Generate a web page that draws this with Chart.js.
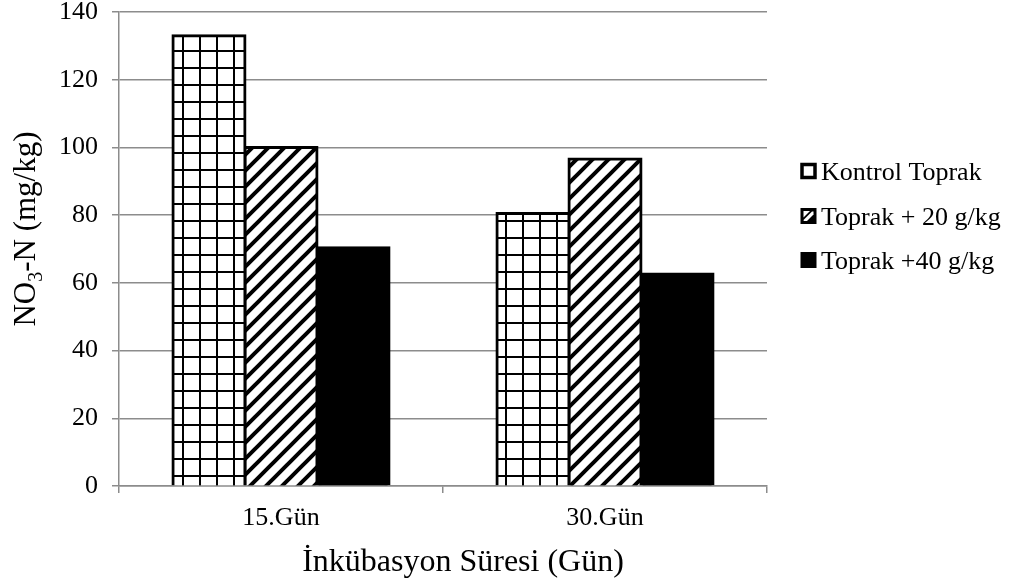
<!DOCTYPE html>
<html>
<head>
<meta charset="utf-8">
<script src="https://cdn.jsdelivr.net/npm/chart.js@4.4.1/dist/chart.umd.min.js"></script>
<style>
  html, body { margin: 0; padding: 0; background: #fff; }
  #wrap { position: relative; width: 1013px; height: 580px; }
</style>
</head>
<body>
<div id="wrap"><canvas id="chart" width="1013" height="580"></canvas></div>
<script>
// Incubation periods and NO3-N contents (mg/kg) for each soil treatment
const categories = ['15.Gün', '30.Gün'];
const seriesNames = ['Kontrol Toprak', 'Toprak + 20 g/kg', 'Toprak +40 g/kg'];
const kontrolValues = [133, 80.5];
const toprak20Values = [100, 96.6];
const toprak40Values = [70.4, 62.6];
const yTicks = [0, 20, 40, 60, 80, 100, 120, 140];
const xTitle = 'İnkübasyon Süresi (Gün)';

const SERIF = "'Liberation Serif', 'Times New Roman', serif";
const GRID = '#8c8c8c';

// Square-grid hatch fill
function gridPattern() {
  const c = document.createElement('canvas');
  c.width = 17; c.height = 17;
  const g = c.getContext('2d');
  g.fillStyle = '#fff'; g.fillRect(0, 0, 17, 17);
  g.fillStyle = '#000';
  g.fillRect(12, 0, 2, 17);
  g.fillRect(0, 16, 17, 1);
  g.fillRect(0, 0, 17, 1);
  return g.createPattern(c, 'repeat');
}

// Wide upward diagonal hatch fill
function diagPattern() {
  const s = 16;
  const c = document.createElement('canvas');
  c.width = s; c.height = s;
  const g = c.getContext('2d');
  g.fillStyle = '#fff'; g.fillRect(0, 0, s, s);
  g.strokeStyle = '#000'; g.lineWidth = 4; g.lineCap = 'square';
  g.beginPath();
  g.moveTo(-4, s + 4); g.lineTo(s + 4, -4);
  g.moveTo(-4, 4); g.lineTo(4, -4);
  g.moveTo(s - 4, s + 4); g.lineTo(s + 4, s - 4);
  g.stroke();
  return g.createPattern(c, 'repeat');
}

const ctx = document.getElementById('chart').getContext('2d');
const fills = [gridPattern(), diagPattern(), '#000'];

// Axis titles: rotated y title with subscript, and the x title below the ticks
const axisTitlePlugin = {
  id: 'axisTitles',
  afterDraw(chart) {
    const c = chart.ctx;
    const parts = [
      { t: 'NO', size: 31, dy: 0 },
      { t: '3', size: 20, dy: 7 },
      { t: '-N (mg/kg)', size: 31, dy: 0 }
    ];
    c.save();
    let total = 0;
    parts.forEach(p => { c.font = p.size + 'px ' + SERIF; p.w = c.measureText(p.t).width; total += p.w; });
    c.translate(35, 229);
    c.rotate(-Math.PI / 2);
    c.fillStyle = '#000';
    c.textBaseline = 'alphabetic';
    let x = -total / 2;
    parts.forEach(p => {
      c.font = p.size + 'px ' + SERIF;
      c.fillText(p.t, x, p.dy);
      x += p.w;
    });
    c.restore();

    c.save();
    c.font = '32px ' + SERIF;
    c.fillStyle = '#000';
    c.textAlign = 'center';
    c.textBaseline = 'middle';
    c.fillText(xTitle, 463, 563);
    c.restore();
  }
};

// Legend on the right with hatch swatches
const legendPlugin = {
  id: 'sideLegend',
  afterDraw(chart) {
    const c = chart.ctx;
    const x0 = 802, size = 13;
    const rows = [173, 218, 262];
    c.save();
    seriesNames.forEach((name, i) => {
      const cy = rows[i];
      const top = cy - size / 2 - 2;
      if (i === 0) {
        c.fillStyle = '#fff'; c.fillRect(x0, top, size, size);
        c.strokeStyle = '#000'; c.lineWidth = 3.5; c.strokeRect(x0, top, size, size);
      } else if (i === 1) {
        c.fillStyle = '#000'; c.fillRect(x0 - 1.5, top - 1.5, size + 3, size + 3);
        c.fillStyle = '#fff';
        c.beginPath();
        c.moveTo(x0 + 2, top + size - 3);
        c.lineTo(x0 + size - 3, top + 2);
        c.lineTo(x0 + size - 1.5, top + 2);
        c.lineTo(x0 + size - 1.5, top + 5);
        c.lineTo(x0 + 5, top + size - 1.5);
        c.lineTo(x0 + 1.5, top + size - 1.5);
        c.closePath();
        c.fill();
        c.beginPath();
        c.moveTo(x0 + 1.5, top + 1.5);
        c.lineTo(x0 + size - 5, top + 1.5);
        c.lineTo(x0 + 1.5, top + size - 5);
        c.closePath();
        c.fill();
      } else {
        c.fillStyle = '#000'; c.fillRect(x0 - 1.5, top - 1.5, size + 3, size + 3);
      }
      c.font = '26px ' + SERIF;
      c.fillStyle = '#000';
      c.textBaseline = 'middle';
      c.textAlign = 'left';
      c.fillText(name, x0 + size + 6, cy);
    });
    c.restore();
  }
};

const mkSet = (label, data, i) => ({
  label,
  data,
  backgroundColor: fills[i],
  borderColor: '#000',
  borderWidth: 3,
  borderSkipped: 'start',
  inflateAmount: 1.5
});

new Chart(ctx, {
  type: 'bar',
  data: {
    labels: categories,
    datasets: [
      mkSet(seriesNames[0], kontrolValues, 0),
      mkSet(seriesNames[1], toprak20Values, 1),
      mkSet(seriesNames[2], toprak40Values, 2)
    ]
  },
  options: {
    responsive: false,
    animation: false,
    devicePixelRatio: 1,
    layout: { padding: { top: 12, right: 246, bottom: 0, left: 0 } },
    plugins: {
      legend: { display: false },
      tooltip: { enabled: false }
    },
    datasets: { bar: { categoryPercentage: 0.667, barPercentage: 1.0 } },
    scales: {
      x: {
        offset: true,
        grid: { offset: true, drawOnChartArea: false, drawTicks: true, tickLength: 7, color: GRID, lineWidth: 1.5 },
        border: { display: true, color: GRID, width: 1.5 },
        ticks: { color: '#000', font: { family: SERIF, size: 26 }, padding: 10 },
        afterFit(scale) {
          scale.height = 94;
          scale.paddingLeft = 0; scale.paddingRight = 0;
        }
      },
      y: {
        min: 0,
        max: 140,
        afterBuildTicks(scale) { scale.ticks = yTicks.map(v => ({ value: v })); },
        grid: { color: GRID, lineWidth: 1.5, drawTicks: true, tickLength: 7 },
        border: { display: true, color: GRID, width: 1.5 },
        ticks: { color: '#000', font: { family: SERIF, size: 26 }, padding: 14 },
        afterFit(scale) {
          scale.width = 119;
          scale.paddingTop = 0; scale.paddingBottom = 0;
        }
      }
    }
  },
  plugins: [axisTitlePlugin, legendPlugin]
});
</script>
</body>
</html>
